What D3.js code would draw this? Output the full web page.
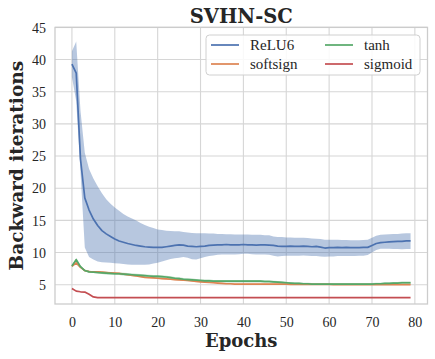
<!DOCTYPE html>
<html><head><meta charset="utf-8">
<script src="https://cdn.jsdelivr.net/npm/d3@7"></script>
<style>body{margin:0;background:#fff}svg{display:block}</style>
</head><body><svg id="c" width="435" height="359"></svg>
<script>
const epochs = d3.range(0, 80);
const xTicks = [0,10,20,30,40,50,60,70,80];
const yTicks = [5,10,15,20,25,30,35,40,45];
const seriesNames = ["ReLU6","softsign","tanh","sigmoid"];

const relu6Mean = [39.3,37.9,24.5,18.5,16.6,15.2,14.2,13.4,12.9,12.5,12.1,11.8,11.6,11.4,11.25,11.1,11.0,10.9,10.85,10.8,
10.8,10.8,10.9,11.0,11.1,11.2,11.15,11.0,10.95,10.9,10.95,11.0,11.1,11.15,11.2,11.2,11.25,11.2,11.2,11.2,
11.25,11.2,11.2,11.15,11.2,11.2,11.15,11.1,11.0,10.95,10.95,11.0,10.95,10.95,11.0,10.95,10.9,10.95,10.85,10.7,
10.75,10.75,10.8,10.75,10.8,10.75,10.75,10.75,10.8,10.8,11.1,11.4,11.55,11.6,11.65,11.7,11.75,11.75,11.8,11.8];
const relu6Upper = [41.3,42.8,32,25.5,23,21.5,20.3,19.2,18.3,17.6,17.0,16.5,16.0,15.6,15.3,15.0,14.6,14.3,14.0,13.8,
13.6,13.5,13.4,13.35,13.3,13.3,13.2,13.1,13.05,13.0,13.0,13.0,12.95,12.95,12.9,12.9,12.85,12.85,12.8,12.8,
12.8,12.8,12.75,12.75,12.75,12.7,12.7,12.5,12.4,12.4,12.35,12.35,12.3,12.3,12.3,12.25,12.2,12.15,12.1,12.0,
12.0,12.0,12.0,11.95,11.95,11.9,11.9,11.9,11.95,12.0,12.3,12.6,12.75,12.8,12.85,12.9,12.9,12.95,13.0,13.0];
const relu6Lower = [37.3,33.5,22.5,10.8,9.3,8.9,8.6,8.5,8.45,8.4,8.35,8.3,8.2,8.15,8.1,8.1,8.1,8.1,8.15,8.3,
8.4,8.6,8.8,9.0,9.1,9.2,9.3,9.2,8.95,8.9,9.1,9.3,9.45,9.55,9.65,9.7,9.7,9.7,9.7,9.75,
9.8,9.8,9.75,9.7,9.7,9.7,9.65,9.5,9.4,9.45,9.5,9.5,9.5,9.5,9.55,9.5,9.45,9.45,9.4,9.35,
9.4,9.4,9.45,9.45,9.45,9.45,9.45,9.5,9.5,9.6,10.0,10.4,10.6,10.6,10.6,10.55,10.55,10.5,10.55,10.55];

const softsignMean = [7.85,8.4,7.7,7.2,7.05,7.0,7.0,6.95,6.9,6.85,6.8,6.75,6.65,6.55,6.45,6.35,6.25,6.15,6.1,6.05,
6.0,5.95,5.9,5.85,5.8,5.75,5.7,5.65,5.6,5.5,5.45,5.4,5.35,5.3,5.25,5.2,5.15,5.15,5.1,5.1,
5.1,5.1,5.1,5.1,5.1,5.1,5.1,5.1,5.1,5.1,5.1,5.05,5.05,5.05,5.05,5.05,5.05,5.05,5.05,5.05,
5.05,5.0,5.0,5.0,5.0,5.0,5.0,5.0,5.0,5.0,5.0,5.0,5.0,5.0,5.0,5.0,5.0,5.0,5.0,5.0];
const softsignSpread = [0.1,0.15,0.1,0.1,0.1,0.1,0.1,0.1,0.1,0.1,0.1,0.1,0.1,0.1,0.1,0.1,0.1,0.1,0.1,0.1,
0.1,0.1,0.1,0.1,0.1,0.1,0.1,0.1,0.1,0.1,0.08,0.08,0.08,0.08,0.08,0.08,0.08,0.08,0.08,0.08,
0.08,0.08,0.08,0.08,0.08,0.08,0.08,0.08,0.08,0.08,0.06,0.06,0.06,0.06,0.06,0.06,0.06,0.06,0.06,0.06,
0.06,0.06,0.06,0.06,0.06,0.06,0.06,0.06,0.06,0.06,0.06,0.06,0.06,0.06,0.06,0.06,0.06,0.06,0.06,0.06];

const tanhMean = [7.9,8.9,7.8,7.2,7.0,6.95,6.9,6.85,6.8,6.75,6.7,6.7,6.65,6.6,6.55,6.5,6.45,6.4,6.35,6.3,
6.3,6.25,6.2,6.1,6.0,5.95,5.85,5.8,5.75,5.7,5.65,5.6,5.6,5.55,5.55,5.55,5.55,5.55,5.55,5.55,
5.55,5.55,5.55,5.55,5.55,5.5,5.5,5.45,5.4,5.35,5.3,5.25,5.2,5.2,5.15,5.15,5.1,5.1,5.1,5.1,
5.1,5.1,5.1,5.1,5.1,5.1,5.1,5.1,5.1,5.1,5.1,5.15,5.15,5.2,5.2,5.25,5.25,5.3,5.3,5.3];
const tanhSpread = [0.15,0.25,0.2,0.15,0.15,0.15,0.18,0.2,0.2,0.2,0.2,0.2,0.2,0.2,0.2,0.2,0.2,0.2,0.2,0.2,
0.2,0.2,0.2,0.2,0.2,0.2,0.2,0.2,0.2,0.2,0.2,0.2,0.2,0.2,0.2,0.2,0.2,0.2,0.2,0.2,
0.2,0.2,0.2,0.2,0.2,0.2,0.2,0.18,0.18,0.15,0.15,0.15,0.15,0.15,0.15,0.15,0.15,0.15,0.15,0.15,
0.15,0.15,0.15,0.15,0.15,0.15,0.15,0.15,0.15,0.15,0.15,0.15,0.15,0.15,0.15,0.18,0.18,0.18,0.18,0.18];

const sigmoidMean = [4.4,4.0,3.9,3.85,3.5,3.1,3.0,3.0,3.0,3.0,3.0,3.0,3.0,3.0,3.0,3.0,3.0,3.0,3.0,3.0,
3.0,3.0,3.0,3.0,3.0,3.0,3.0,3.0,3.0,3.0,3.0,3.0,3.0,3.0,3.0,3.0,3.0,3.0,3.0,3.0,
3.0,3.0,3.0,3.0,3.0,3.0,3.0,3.0,3.0,3.0,3.0,3.0,3.0,3.0,3.0,3.0,3.0,3.0,3.0,3.0,
3.0,3.0,3.0,3.0,3.0,3.0,3.0,3.0,3.0,3.0,3.0,3.0,3.0,3.0,3.0,3.0,3.0,3.0,3.0,3.0];

const colors = {ReLU6:"#4c72b0", softsign:"#dd8452", tanh:"#55a868", sigmoid:"#c44e52"};

const svg = d3.select("#c");
const L = 55, R = 427.5, T = 27.4, B = 304;
const x = d3.scaleLinear().domain([-3.95, 82.95]).range([L, R]);
const y = d3.scaleLinear().domain([2, 45]).range([B, T]);

// grid
const g = svg.append("g");
g.selectAll(".gx").data(xTicks).join("line")
  .attr("x1", d => x(d)).attr("x2", d => x(d)).attr("y1", T).attr("y2", B)
  .attr("stroke", "#d6d6d6").attr("stroke-width", 1.1);
g.selectAll(".gy").data(yTicks).join("line")
  .attr("x1", L).attr("x2", R).attr("y1", d => y(d)).attr("y2", d => y(d))
  .attr("stroke", "#d6d6d6").attr("stroke-width", 1.1);

const clip = svg.append("clipPath").attr("id","pc").append("rect")
  .attr("x", L).attr("y", T).attr("width", R-L).attr("height", B-T);
const plot = svg.append("g").attr("clip-path","url(#pc)");

const area = d3.area().x(d => x(d.e)).y0(d => y(d.lo)).y1(d => y(d.hi));
const line = d3.line().x(d => x(d.e)).y(d => y(d.v));

const bands = [
  {name:"ReLU6", data: epochs.map(e => ({e, lo: relu6Lower[e], hi: relu6Upper[e]}))},
  {name:"softsign", data: epochs.map(e => ({e, lo: softsignMean[e]-softsignSpread[e], hi: softsignMean[e]+softsignSpread[e]}))},
  {name:"tanh", data: epochs.map(e => ({e, lo: tanhMean[e]-tanhSpread[e], hi: tanhMean[e]+tanhSpread[e]}))}
];
bands.forEach(b => plot.append("path").attr("d", area(b.data))
  .attr("fill", colors[b.name]).attr("fill-opacity", 0.4));

const lines = [
  {name:"ReLU6", vals: relu6Mean},
  {name:"softsign", vals: softsignMean},
  {name:"tanh", vals: tanhMean},
  {name:"sigmoid", vals: sigmoidMean}
];
lines.forEach(s => plot.append("path")
  .attr("d", line(epochs.map(e => ({e, v: s.vals[e]}))))
  .attr("fill","none").attr("stroke", colors[s.name]).attr("stroke-width", 1.7)
  .attr("stroke-linejoin","round"));

// frame
svg.append("rect").attr("x", L).attr("y", T).attr("width", R-L).attr("height", B-T)
  .attr("fill","none").attr("stroke","#cccccc").attr("stroke-width", 1.3);

// axes
const xAxis = d3.axisBottom(x).tickValues(xTicks).tickSize(0).tickPadding(0);
const yAxis = d3.axisLeft(y).tickValues(yTicks).tickSize(0).tickPadding(0);
const xa = svg.append("g").attr("transform", `translate(0,${B})`).call(xAxis);
const ya = svg.append("g").attr("transform", `translate(${L},0)`).call(yAxis);
[xa, ya].forEach(a => { a.select(".domain").remove();
  a.selectAll("text").attr("font-family","'Liberation Serif', serif").attr("font-size", 14).attr("fill","#262626"); });
xa.selectAll("text").attr("dy", null).attr("y", 23);
ya.selectAll("text").attr("x", -9).attr("dy", "0.34em");

// labels
svg.append("text").attr("x", (L+R)/2).attr("y", 22.5).attr("text-anchor","middle")
  .attr("font-family","'DejaVu Serif', serif").attr("font-weight","bold").attr("font-size", 19.5)
  .attr("fill","#262626").text("SVHN-SC");
svg.append("text").attr("x", (L+R)/2).attr("y", 347).attr("text-anchor","middle")
  .attr("font-family","'DejaVu Serif', serif").attr("font-weight","bold").attr("font-size", 18)
  .attr("fill","#262626").text("Epochs");
svg.append("text").attr("transform", `translate(23,${(T+B)/2}) rotate(-90)`).attr("text-anchor","middle")
  .attr("font-family","'DejaVu Serif', serif").attr("font-weight","bold").attr("font-size", 18.5)
  .attr("fill","#262626").text("Backward iterations");

// legend
const lg = svg.append("g");
lg.append("rect").attr("x", 206).attr("y", 35).attr("width", 214).attr("height", 40).attr("rx", 3.5)
  .attr("fill","#ffffff").attr("fill-opacity", 0.85).attr("stroke","#d0d0d0").attr("stroke-width", 1);
const legPos = [
  {name:"ReLU6", lx:211, ty:45},
  {name:"softsign", lx:211, ty:64},
  {name:"tanh", lx:325, ty:45},
  {name:"sigmoid", lx:325, ty:64}
];
legPos.forEach(p => {
  lg.append("line").attr("x1", p.lx).attr("x2", p.lx+28).attr("y1", p.ty).attr("y2", p.ty)
    .attr("stroke", colors[p.name]).attr("stroke-width", 1.7);
  lg.append("text").attr("x", p.lx+39).attr("y", p.ty).attr("dy","0.34em")
    .attr("font-family","'Liberation Serif', serif").attr("font-size", 15).attr("fill","#262626").text(p.name);
});
</script></body></html>
